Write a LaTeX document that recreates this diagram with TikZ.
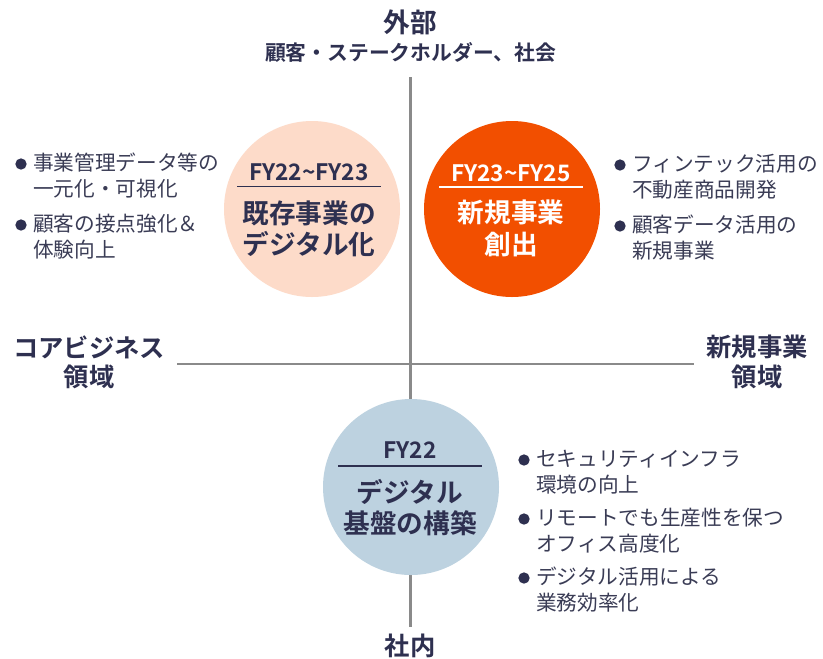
\documentclass[tikz,border=0pt]{standalone}
\usepackage{fontspec}
\setmainfont{Noto Sans CJK JP}[BoldFont={Noto Sans CJK JP Bold}]
\definecolor{navy}{HTML}{2E3050}
\definecolor{bodytxt}{HTML}{3A3C55}
\definecolor{axisgray}{HTML}{8A8A8A}
\definecolor{peach}{HTML}{FDDBC9}
\definecolor{orangeC}{HTML}{F24F00}
\definecolor{paleblue}{HTML}{BDD2E0}
\tikzset{
  axisline/.style={draw=axisgray, line width=1.6pt},
  bigcircle/.style={circle, minimum size=132pt, inner sep=0pt},
  axislabel/.style={font=\bfseries\fontsize{19}{22}\selectfont, text=navy, inner sep=0pt},
  fylabel/.style={font=\bfseries\fontsize{17}{19}\selectfont, inner sep=0pt},
  maintxt/.style={font=\bfseries\fontsize{20}{22}\selectfont, inner sep=0pt},
  bullettxt/.style={font=\fontsize{15.5}{18}\selectfont, text=bodytxt, inner sep=0pt, anchor=west},
  bulletdot/.style={circle, fill=navy, minimum size=8.5pt, inner sep=0pt},
  sepline/.style={line width=1.1pt}
}
\begin{document}
\begin{tikzpicture}[x=0.75pt, y=-0.75pt]
\useasboundingbox[fill=white] (0,0) rectangle (823,658);

% axes
\coordinate (vtop) at (410.5,77);
\coordinate (vbot) at (410.5,627);
\coordinate (hleft) at (177,364);
\coordinate (hright) at (694,364);
\draw[axisline] (vtop) -- (vbot);
\draw[axisline] (hleft) -- (hright);

% axis labels
\node[axislabel, font=\bfseries\fontsize{20}{22}\selectfont] (gaibu) at (410.5,22) {外部};
\node[axislabel, font=\bfseries\fontsize{15.6}{18}\selectfont] (kokyaku) at (410.5,52) {顧客・ステークホルダー、社会};
\node[axislabel] (core1) at (89,347) {コアビジネス};
\node[axislabel] (core2) at (89,377) {領域};
\node[axislabel] (new1) at (757,347) {新規事業};
\node[axislabel] (new2) at (757,377) {領域};
\node[axislabel] (shanai) at (410,646) {社内};

% circles
\node[bigcircle, fill=peach] (c1) at (312,209) {};
\node[bigcircle, fill=orangeC] (c2) at (512,209) {};
\node[bigcircle, fill=paleblue] (c3) at (411,487) {};

% circle 1 text
\node[fylabel, text=navy] (c1fy) at (309,172) {FY22\char"007E FY23};
\coordinate (c1sl) at (237,186.5);
\coordinate (c1sr) at (381,186.5);
\draw[sepline, navy] (c1sl) -- (c1sr);
\node[maintxt, text=navy] (c1a) at (309,213) {既存事業の};
\node[maintxt, text=navy] (c1b) at (309,244) {デジタル化};

% circle 2 text
\node[fylabel, text=white] (c2fy) at (511,173) {FY23\char"007E FY25};
\coordinate (c2sl) at (439,187);
\coordinate (c2sr) at (583,187);
\draw[sepline, white] (c2sl) -- (c2sr);
\node[maintxt, text=white] (c2a) at (511,212) {新規事業};
\node[maintxt, text=white] (c2b) at (511,245) {創出};

% circle 3 text
\node[fylabel, text=navy] (c3fy) at (410,450) {FY22};
\coordinate (c3sl) at (338,466);
\coordinate (c3sr) at (482,466);
\draw[sepline, navy] (c3sl) -- (c3sr);
\node[maintxt, text=navy] (c3a) at (410,492) {デジタル};
\node[maintxt, text=navy] (c3b) at (410,523) {基盤の構築};

% left bullets
\node[bulletdot] (l1d) at (21,164) {};
\node[bullettxt] (l1a) at (33,163) {事業管理データ等の};
\node[bullettxt] (l1b) at (33,189) {一元化・可視化};
\node[bulletdot] (l2d) at (21,225) {};
\node[bullettxt] (l2a) at (33,224) {顧客の接点強化＆};
\node[bullettxt] (l2b) at (33,250) {体験向上};

% right-top bullets
\node[bulletdot] (r1d) at (620,165) {};
\node[bullettxt] (r1a) at (632,164) {フィンテック活用の};
\node[bullettxt] (r1b) at (632,190) {不動産商品開発};
\node[bulletdot] (r2d) at (620,226) {};
\node[bullettxt] (r2a) at (632,225) {顧客データ活用の};
\node[bullettxt] (r2b) at (632,251) {新規事業};

% bottom-right bullets
\node[bulletdot] (b1d) at (524,460) {};
\node[bullettxt] (b1a) at (536,459) {セキュリティインフラ};
\node[bullettxt] (b1b) at (536,485) {環境の向上};
\node[bulletdot] (b2d) at (524,519) {};
\node[bullettxt] (b2a) at (536,518) {リモートでも生産性を保つ};
\node[bullettxt] (b2b) at (536,544) {オフィス高度化};
\node[bulletdot] (b3d) at (524,578) {};
\node[bullettxt] (b3a) at (536,577) {デジタル活用による};
\node[bullettxt] (b3b) at (536,603) {業務効率化};
\end{tikzpicture}
\end{document}
